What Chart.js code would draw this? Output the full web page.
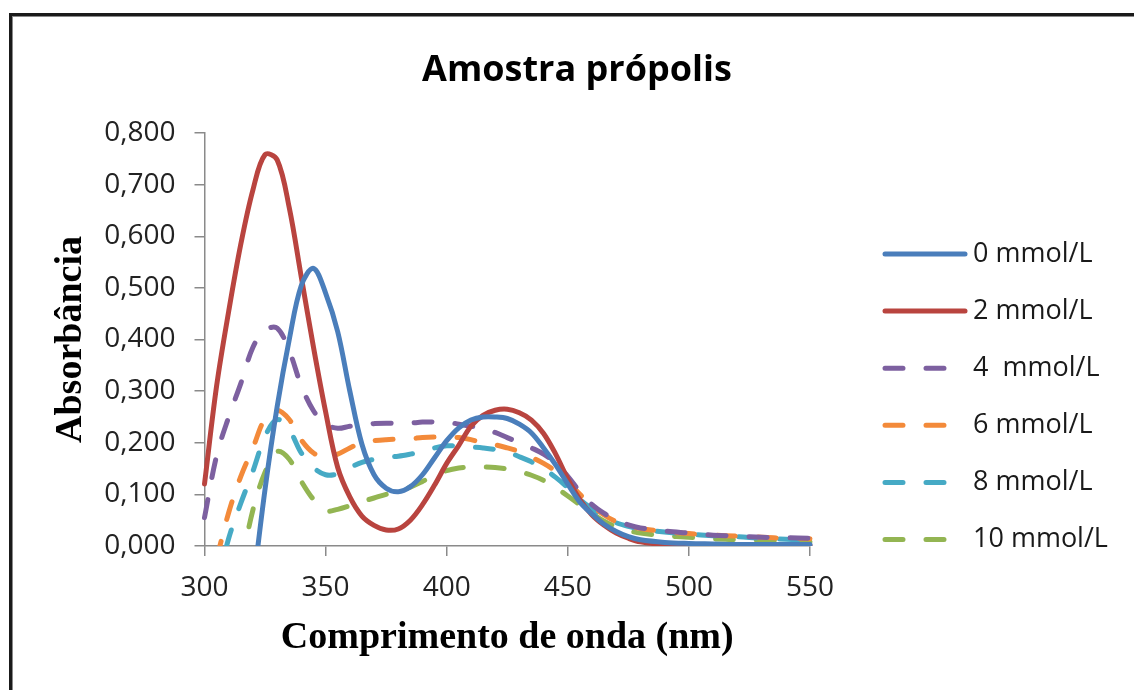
<!doctype html>
<html lang="pt">
<head>
<meta charset="utf-8">
<title>Amostra própolis</title>
<script src="https://cdn.jsdelivr.net/npm/chart.js@4.4.1/dist/chart.umd.min.js"></script>
<style>
  * { box-sizing: border-box; }
  html, body { margin: 0; padding: 0; background: #fff; overflow: hidden; }
  #wrap { position: relative; width: 1134px; height: 690px; }
  #chart { position: absolute; left: 0; top: 0; }
  .frame {
    position: absolute;
    left: 9px;
    top: 13px;
    width: 1200px;
    height: 800px;
    border-left: 3px solid #1a1a1a;
    border-top: 3px solid #1a1a1a;
    box-shadow: inset 1px 1px 0 #8a8a8a;
    pointer-events: none;
  }
</style>
</head>
<body>
<div id="wrap">
  <canvas id="chart" width="1134" height="690"></canvas>
  <div class="frame"></div>
</div>
<script>
// wavelength grid (nm) shared by all series
const wavelengths = [300, 305, 310, 315, 320, 325, 330, 335, 340, 345, 350, 355, 360, 365, 370, 375,
  380, 385, 390, 395, 400, 405, 410, 415, 420, 425, 430, 435, 440, 445, 450, 455, 460, 465, 470, 475,
  480, 490, 500, 510, 520, 530, 540, 550];

// absorbance for each concentration (null = not measured / off-scale)
const abs0 = [null, null, null, null, -0.08, 0.11, 0.27, 0.40, 0.505, 0.538, 0.49, 0.415, 0.30, 0.197, 0.138, 0.112,
  0.105, 0.115, 0.138, 0.171, 0.204, 0.229, 0.244, 0.25, 0.25, 0.247, 0.236, 0.219, 0.19, 0.157, 0.12, 0.085,
  0.062, 0.042, 0.028, 0.018, 0.012, 0.007, 0.005, 0.004, 0.003, 0.003, 0.003, 0.003];
const abs2 = [0.12, 0.31, 0.455, 0.585, 0.69, 0.758, 0.748, 0.655, 0.52, 0.385, 0.26, 0.152, 0.095, 0.058, 0.04, 0.031,
  0.033, 0.05, 0.08, 0.118, 0.16, 0.195, 0.232, 0.253, 0.263, 0.265, 0.258, 0.244, 0.218, 0.178, 0.13, 0.09,
  0.06, 0.04, 0.025, 0.015, 0.008, 0.003, 0.002, 0.001, 0.001, 0.001, 0.001, 0.001];
const abs4 = [0.055, 0.175, 0.25, 0.315, 0.385, 0.418, 0.422, 0.378, 0.31, 0.262, 0.236, 0.228, 0.232, 0.235, 0.237, 0.238,
  0.237, 0.238, 0.24, 0.24, 0.24, 0.236, 0.232, 0.228, 0.22, 0.21, 0.2, 0.19, 0.178, 0.16, 0.135, 0.105,
  0.08, 0.063, 0.05, 0.041, 0.035, 0.029, 0.025, 0.021, 0.019, 0.017, 0.016, 0.015];
const abs6 = [null, -0.025, 0.065, 0.135, 0.19, 0.247, 0.263, 0.245, 0.205, 0.18, 0.172, 0.178, 0.19, 0.2, 0.204, 0.206,
  0.207, 0.208, 0.21, 0.211, 0.211, 0.21, 0.206, 0.2, 0.196, 0.19, 0.183, 0.172, 0.16, 0.145, 0.125, 0.1,
  0.078, 0.06, 0.047, 0.039, 0.034, 0.028, 0.024, 0.021, 0.019, 0.017, 0.015, 0.014];
const abs8 = [null, -0.08, 0.015, 0.083, 0.145, 0.212, 0.245, 0.225, 0.18, 0.152, 0.138, 0.14, 0.152, 0.162, 0.168, 0.172,
  0.174, 0.178, 0.183, 0.19, 0.194, 0.194, 0.192, 0.19, 0.187, 0.182, 0.173, 0.163, 0.15, 0.133, 0.113, 0.09,
  0.072, 0.056, 0.045, 0.038, 0.033, 0.027, 0.023, 0.02, 0.018, 0.015, 0.013, 0.011];
const abs10 = [null, null, null, -0.04, 0.07, 0.143, 0.183, 0.168, 0.125, 0.09, 0.068, 0.071, 0.078, 0.086, 0.093, 0.1,
  0.106, 0.114, 0.125, 0.137, 0.146, 0.151, 0.153, 0.153, 0.152, 0.149, 0.144, 0.137, 0.127, 0.113, 0.097, 0.08,
  0.063, 0.048, 0.037, 0.03, 0.025, 0.02, 0.017, 0.014, 0.012, 0.011, 0.01, 0.008];

const seriesLabels = ['0 mmol/L', '2 mmol/L', '4  mmol/L', '6 mmol/L', '8 mmol/L', '10 mmol/L'];
const seriesValues = [abs0, abs2, abs4, abs6, abs8, abs10];
const seriesColors = ['#4A7EBB', '#B9443F', '#7D60A0', '#F38A3A', '#46AAC5', '#93B552'];
const seriesDashed = [false, false, true, true, true, true];

const chartTitle = 'Amostra própolis';
const xTitle = 'Comprimento de onda (nm)';
const yTitle = 'Absorbância';

const sans = "'Open Sans', sans-serif";
const serif = "'Liberation Serif', 'Times New Roman', serif";

// title and legend sit outside the plot box, drawn after everything else
const sideText = {
  id: 'sideText',
  afterDraw(chart) {
    const ctx = chart.ctx;
    ctx.save();
    ctx.fillStyle = '#000';
    ctx.font = 'bold 36px ' + sans;
    ctx.textAlign = 'center';
    ctx.textBaseline = 'middle';
    ctx.fillText(chartTitle, 577, 71);

    ctx.font = '27px ' + sans;
    ctx.textAlign = 'left';
    chart.data.datasets.forEach(function (ds, i) {
      const y = 254 + i * 57.1;
      ctx.strokeStyle = ds.borderColor;
      ctx.lineWidth = ds.borderWidth;
      ctx.lineCap = 'round';
      ctx.setLineDash(ds.borderDash || []);
      ctx.beginPath();
      ctx.moveTo(885, y);
      ctx.lineTo(965, y);
      ctx.stroke();
      ctx.setLineDash([]);
      ctx.fillStyle = '#1a1a1a';
      ctx.fillText(ds.label, 973, y);
    });
    ctx.restore();
  }
};

const datasets = seriesValues.map(function (vals, i) {
  return {
    label: seriesLabels[i],
    data: wavelengths.map(function (w, j) { return { x: w, y: vals[j] }; }),
    borderColor: seriesColors[i],
    backgroundColor: seriesColors[i],
    borderWidth: 5,
    borderDash: seriesDashed[i] ? [18, 23] : [],
    borderCapStyle: 'round',
    borderJoinStyle: 'round',
    pointRadius: 0,
    tension: 0.35,
    spanGaps: false,
    clip: { left: 3, top: 5, right: 3, bottom: 0 },
  };
});

const axisGrey = '#8a8a8a';

new Chart(document.getElementById('chart').getContext('2d'), {
  type: 'line',
  data: { datasets: datasets },
  options: {
    responsive: false,
    animation: false,
    devicePixelRatio: 1,
    layout: { padding: { left: 14, right: 324, top: 133, bottom: 0 } },
    plugins: {
      legend: { display: false },
      title: { display: false },
      tooltip: { enabled: false },
    },
    scales: {
      x: {
        type: 'linear',
        min: 300,
        max: 550,
        afterFit: function (scale) { scale.height = 144; },
        ticks: {
          stepSize: 50,
          padding: 15,
          color: '#222',
          maxRotation: 0,
          font: { family: sans, size: 28 },
        },
        grid: { drawOnChartArea: false, tickLength: 10, color: axisGrey, lineWidth: 1.5 },
        border: { color: axisGrey, width: 1.5 },
        title: {
          display: true,
          text: xTitle,
          color: '#000',
          font: { family: serif, size: 38, weight: 'bold', lineHeight: 1.2 },
          padding: { top: 0, bottom: 29 },
        },
      },
      y: {
        min: 0,
        max: 0.8,
        afterFit: function (scale) { scale.width = 190.5; },
        ticks: {
          stepSize: 0.1,
          padding: 19,
          color: '#222',
          font: { family: sans, size: 28 },
          callback: function (v) { return v.toFixed(3).replace('.', ','); },
        },
        grid: { drawOnChartArea: false, tickLength: 10, color: axisGrey, lineWidth: 1.5 },
        border: { color: axisGrey, width: 1.5 },
        title: {
          display: true,
          text: yTitle,
          color: '#000',
          font: { family: serif, size: 38, weight: 'bold', lineHeight: 1.2 },
          padding: { top: 34, bottom: 0 },
        },
      },
    },
  },
  plugins: [sideText],
});
</script>
</body>
</html>
